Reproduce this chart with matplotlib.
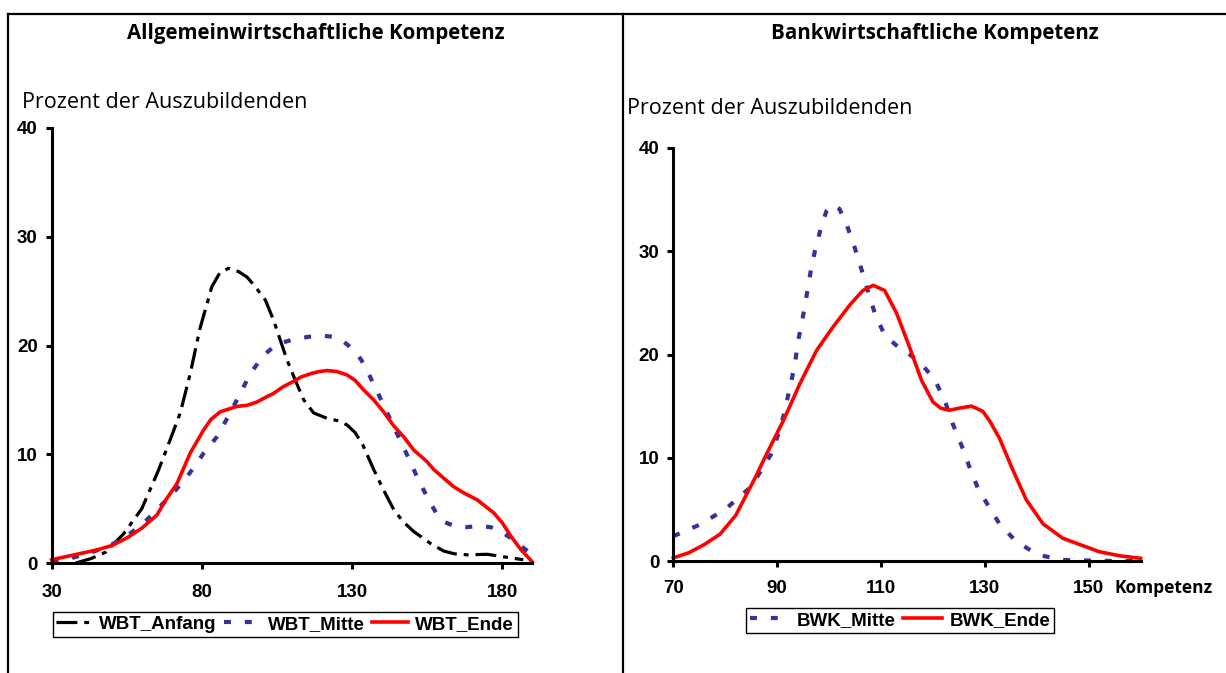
import matplotlib
matplotlib.use("Agg")
import matplotlib.pyplot as plt
from matplotlib.lines import Line2D

plt.rcParams['lines.scale_dashes'] = False

# --- left panel: Allgemeinwirtschaftliche Kompetenz (WBT) ---
wbt_anfang_x = [38, 43, 48, 54, 60, 65.5, 69.4, 72.8, 76.1, 79.4, 83.3, 86, 88.9, 92.2, 95,
                97.2, 101.1, 103.9, 106.1, 108.3, 111.1, 113.9, 117.2, 121.7, 125, 128.3,
                131, 133.5, 137.2, 140.5, 143.9, 147, 150.5, 156.1, 160.5, 164, 168.3, 175,
                183.3, 187]
wbt_anfang_y = [0.0, 0.4, 1.0, 2.7, 5.0, 8.5, 11.3, 13.8, 17.4, 21.6, 25.4, 26.7, 27.1, 26.8,
                26.3, 25.6, 24.2, 22.3, 20.5, 18.7, 16.8, 15.0, 13.8, 13.3, 13.1, 12.7, 12.0,
                10.9, 8.6, 6.7, 4.9, 3.8, 2.9, 1.8, 1.1, 0.85, 0.75, 0.8, 0.45, 0.3]

wbt_mitte_x = [30, 36, 42, 48, 54, 60, 65, 70, 75, 80.6, 85, 89.4, 92.8, 96.1, 100.5, 104,
               107.2, 111, 115.5, 120, 123.9, 127, 130.5, 133, 135, 138.3, 141.7, 145.3,
               148.9, 152, 155.5, 158, 160.5, 164, 168.3, 172, 176.1, 179.5, 182.8, 186, 189.4]
wbt_mitte_y = [0.1, 0.4, 0.9, 1.4, 2.3, 3.5, 4.9, 6.3, 7.9, 10.1, 11.6, 13.8, 15.6, 17.4,
               19.1, 19.9, 20.3, 20.6, 20.8, 20.9, 20.8, 20.4, 19.6, 18.7, 17.7, 15.8, 13.8,
               11.7, 9.6, 7.7, 5.8, 4.6, 3.8, 3.4, 3.3, 3.4, 3.3, 2.9, 2.3, 1.6, 0.9]

wbt_ende_x = [30, 35, 40, 45, 50, 55, 60, 65, 68, 71.7, 76.1, 80.5, 83, 86.1, 91.7, 95, 98.3,
              101, 103.9, 107, 110.5, 113, 116.1, 119, 121.7, 125, 128.3, 131, 133.9, 137.2,
              140.5, 143.9, 147.2, 150.5, 155, 157.2, 160.5, 163.9, 167.5, 171.7, 177.2, 180,
              182.8, 186, 190]
wbt_ende_y = [0.3, 0.6, 0.9, 1.2, 1.6, 2.3, 3.2, 4.4, 5.8, 7.3, 10.1, 12.2, 13.2, 13.9, 14.4,
              14.5, 14.8, 15.2, 15.6, 16.2, 16.7, 17.1, 17.4, 17.6, 17.7, 17.6, 17.3, 16.8,
              15.9, 15.0, 13.9, 12.6, 11.6, 10.4, 9.3, 8.6, 7.8, 7.0, 6.4, 5.8, 4.6, 3.7, 2.5,
              1.3, 0.1]

# --- right panel: Bankwirtschaftliche Kompetenz (BWK) ---
bwk_mitte_x = [70, 75, 80, 85, 88.9, 90.5, 91.5, 92.4, 93.4, 94, 94.9, 95.7, 96.4, 97.3, 98.5,
               99.5, 100.8, 102, 103.3, 104.9, 106.2, 107.5, 108.8, 110.4, 112, 113.6, 115.5,
               117.4, 120.3, 122.3, 123.8, 125.5, 127.1, 128.7, 130.6, 132.8, 136, 140.2, 145,
               150, 155, 160]
bwk_mitte_y = [2.4, 3.5, 5.0, 7.2, 10.4, 12.7, 14.6, 16.7, 19.0, 21.2, 23.5, 25.8, 27.9, 30.1,
               32.4, 33.9, 34.5, 34.1, 32.7, 30.4, 28.3, 26.1, 24.0, 22.2, 21.3, 20.6, 20.0,
               19.3, 17.6, 15.5, 13.3, 11.2, 9.0, 7.0, 5.4, 3.6, 1.9, 0.6, 0.1, 0.05, 0.0, 0.0]

bwk_ende_x = [70, 73, 76, 79, 82, 85.7, 88, 91.2, 94.4, 97.6, 100.8, 104, 106.5, 108.5, 110.7,
              113, 115.5, 117.8, 120, 121.5, 123.2, 125, 127.4, 129.6, 131, 132.8, 135.4, 138,
              141.2, 145, 148.8, 152, 156, 160]
bwk_ende_y = [0.3, 0.8, 1.6, 2.6, 4.4, 8.0, 10.4, 13.6, 17.2, 20.4, 22.7, 24.8, 26.2, 26.7,
              26.2, 24.0, 20.7, 17.5, 15.4, 14.8, 14.6, 14.8, 15.0, 14.5, 13.5, 11.9, 8.8, 5.9,
              3.6, 2.2, 1.5, 0.9, 0.5, 0.26]

left_xticks = [30, 80, 130, 180]
right_xticks = [70, 90, 110, 130, 150]
yticks = [0, 10, 20, 30, 40]

W, H = 1226, 673
BLUE = '#333399'
tick_font = dict(family='Liberation Sans', weight='bold', size=13.5)

fig = plt.figure(figsize=(W / 100, H / 100), dpi=100)


def px_axes(x0, x1, ytop, ybot):
    return fig.add_axes([x0 / W, 1 - ybot / H, (x1 - x0) / W, (ybot - ytop) / H])


def style_axes(ax, xticks, xlim, xpad):
    ax.set_xlim(*xlim)
    ax.set_ylim(0, 40)
    ax.set_xticks(xticks)
    ax.set_yticks(yticks)
    for s in ['top', 'right']:
        ax.spines[s].set_visible(False)
    for s in ['left', 'bottom']:
        ax.spines[s].set_linewidth(2.2)
    ax.tick_params(axis='both', direction='out', length=4, width=2.2)
    ax.tick_params(axis='x', pad=xpad)
    ax.tick_params(axis='y', pad=6)
    for lab in ax.get_xticklabels() + ax.get_yticklabels():
        lab.set_fontproperties(tick_font)


# frame lines
for xs, ys in [([8 / W, 1], [1 - 14 / H, 1 - 14 / H]),
               ([8.3 / W, 8.3 / W], [0, 1 - 14 / H]),
               ([622.7 / W, 622.7 / W], [0, 1 - 14 / H])]:
    fig.add_artist(Line2D(xs, ys, color='black', lw=1.6, transform=fig.transFigure))

# left
ax1 = px_axes(51.7, 532.3, 128, 563)
ax1.plot(wbt_anfang_x, wbt_anfang_y, color='black', lw=2.3, ls=(0, (15, 5, 3.5, 5)),
         label='WBT_Anfang', clip_on=False)
ax1.plot(wbt_mitte_x, wbt_mitte_y, color=BLUE, lw=3, ls=(0, (5, 10)),
         label='WBT_Mitte', clip_on=False)
ax1.plot(wbt_ende_x, wbt_ende_y, color='red', lw=2.6, label='WBT_Ende', clip_on=False)
style_axes(ax1, left_xticks, (30, 190), 11)

# right
ax2 = px_axes(673.3, 1140.7, 148, 561)
ax2.plot(bwk_mitte_x, bwk_mitte_y, color=BLUE, lw=3, ls=(0, (5, 10)),
         label='BWK_Mitte', clip_on=False)
ax2.plot(bwk_ende_x, bwk_ende_y, color='red', lw=2.6, label='BWK_Ende', clip_on=False)
style_axes(ax2, right_xticks, (70, 160), 10)

# legends
for ax, cx, top, hl in [(ax1, 285, 612, 1.9), (ax2, 900, 608, 2.1)]:
    leg = ax.legend(ncol=3, loc='upper center', bbox_to_anchor=(cx / W, 1 - top / H),
                    bbox_transform=fig.transFigure, frameon=True, fancybox=False,
                    edgecolor='black', framealpha=1, prop=tick_font,
                    handlelength=hl, handletextpad=0.4, columnspacing=0.4,
                    borderpad=0.2, borderaxespad=0)
    leg.get_frame().set_linewidth(1.0)

# titles and axis texts
fig.text(316 / W, 1 - 33 / H, 'Allgemeinwirtschaftliche Kompetenz', ha='center', va='center',
         family='Open Sans', weight='bold', size=14.8)
fig.text(935 / W, 1 - 33 / H, 'Bankwirtschaftliche Kompetenz', ha='center', va='center',
         family='Open Sans', weight='bold', size=14.8)
fig.text(22 / W, 1 - 102 / H, 'Prozent der Auszubildenden', ha='left', va='center',
         family='Open Sans', size=15.5)
fig.text(627 / W, 1 - 109 / H, 'Prozent der Auszubildenden', ha='left', va='center',
         family='Open Sans', size=15.5)
fig.text(1115 / W, 1 - 588 / H, 'Kompetenz', ha='left', va='center',
         family='Open Sans', weight='bold', size=12.5)

fig.savefig('out.png', dpi=100)
